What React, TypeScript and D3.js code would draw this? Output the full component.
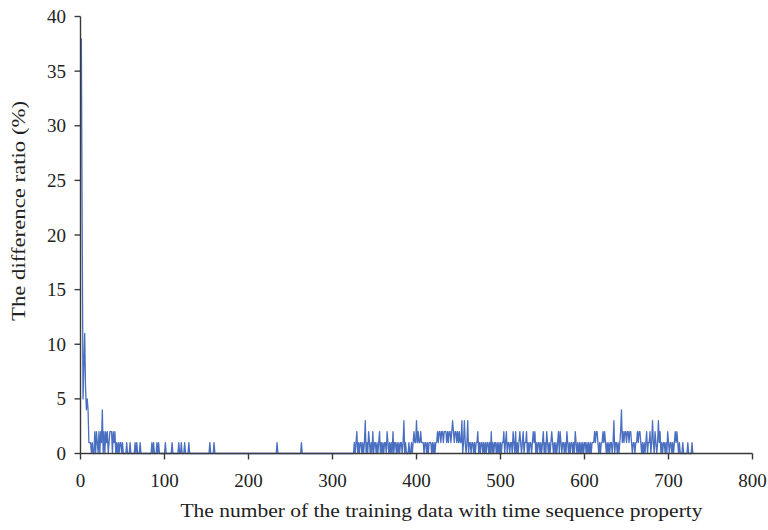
import React from "react";
import * as d3 from "d3";

// x positions start at 1; first values are large
const headValues: number[] = [38, 21, 5, 8, 11, 6, 4, 5, 4];
const headStartX = 1;

// One digit per integer x, starting at x = 10 (values are the difference ratio in %)
const seriesDigits: string[] = [
  "1110100202", // 10-19
  "1020214020", // 20-29
  "2120122202", // 30-39
  "1201010110", // 40-49
  "1000010001", // 50-59
  "0000010100", // 60-69
  "0100000000", // 70-79
  "0000010100", // 80-89
  "0101000000", // 90-99
  "0100000001", // 100-109
  "0000000100", // 110-119
  "1000100001", // 120-129
  "0000000000", // 130-139
  "0000000000", // 140-149
  "0000100001", // 150-159
  "0000000000", // 160-169
  "0000000000", // 170-179
  "0000000000", // 180-189
  "0000000000", // 190-199
  "0000000000", // 200-209
  "0000000000", // 210-219
  "0000000000", // 220-229
  "0000100000", // 230-239
  "0000000000", // 240-249
  "0000000000", // 250-259
  "0001000000", // 260-269
  "0000000000", // 270-279
  "0000000000", // 280-289
  "0000000000", // 290-299
  "0000000000", // 300-309
  "0000000000", // 310-319
  "0000001012", // 320-329
  "0101101013", // 330-339
  "0102101020", // 340-349
  "1101012010", // 350-359
  "1011021010", // 360-369
  "1020110101", // 370-379
  "0110130100", // 380-389
  "0100101211", // 390-399
  "3121121110", // 400-409
  "1101011101", // 410-419
  "0101121221", // 420-429
  "2212221212", // 430-439
  "2123212212", // 440-449
  "1211301310", // 450-459
  "1301101101", // 460-469
  "0112010110", // 470-479
  "1010110102", // 480-489
  "0101101010", // 490-499
  "1011201201", // 500-509
  "1011021020", // 510-519
  "1012101201", // 520-529
  "1201011012", // 530-539
  "1201011010", // 540-549
  "1201021010", // 550-559
  "1210101012", // 560-569
  "0210110102", // 570-579
  "1010110102", // 580-589
  "1010101010", // 590-599
  "1101010101", // 600-609
  "1121221010", // 610-619
  "1121210101", // 620-629
  "0110130110", // 630-639
  "1012412122", // 640-649
  "1221221011", // 650-659
  "0112122101", // 660-669
  "0101201120", // 670-679
  "1310210131", // 680-689
  "2010110102", // 690-699
  "1011010121", // 700-709
  "2101000100", // 710-719
  "00010000100", // 720-730
];

const xTicks = [0, 100, 200, 300, 400, 500, 600, 700, 800];
const yTicks = [0, 5, 10, 15, 20, 25, 30, 35, 40];
const xTitle = "The number of the training data with time sequence property";
const yTitle = "The difference ratio (%)";

type Pt = { x: number; y: number };

function buildData(): Pt[] {
  const pts: Pt[] = headValues.map((v, i) => ({ x: headStartX + i, y: v }));
  const digits = seriesDigits.join("");
  const start = headStartX + headValues.length;
  for (let i = 0; i < digits.length; i++) {
    pts.push({ x: start + i, y: +digits[i] });
  }
  return pts;
}

export default function App() {
  const W = 768;
  const H = 530;
  const left = 80.5;
  const right = 752.5;
  const top = 16.5;
  const bottom = 453.5;
  const font = "'Liberation Serif', 'Times New Roman', serif";
  const axisColor = "#3a3a3a";

  const x = d3.scaleLinear().domain([0, 800]).range([left, right]);
  const y = d3.scaleLinear().domain([0, 40]).range([bottom, top]);
  const data = buildData();
  const line = d3
    .line<Pt>()
    .x((d) => x(d.x))
    .y((d) => y(d.y));

  return (
    <svg
      width={W}
      height={H}
      style={{ position: "absolute", left: 0, top: 0, background: "#fff" }}
    >
      <rect width={W} height={H} fill="#fff" />
      <path
        d={line(data) || ""}
        fill="none"
        stroke="#4a6fc0"
        strokeWidth={1.3}
        strokeLinejoin="round"
      />
      {/* axes */}
      <line x1={left} x2={right} y1={bottom} y2={bottom} stroke={axisColor} strokeWidth={1.4} />
      <line x1={left} x2={left} y1={top} y2={bottom} stroke={axisColor} strokeWidth={1.4} />
      {xTicks.map((t) => (
        <g key={"x" + t}>
          <line x1={x(t)} x2={x(t)} y1={bottom} y2={bottom + 6} stroke={axisColor} strokeWidth={1.4} />
          <text
            x={x(t)}
            y={487}
            textAnchor="middle"
            fontFamily={font}
            fontSize={19}
            fill="#222"
          >
            {t}
          </text>
        </g>
      ))}
      {yTicks.map((t) => (
        <g key={"y" + t}>
          <line x1={left - 6} x2={left} y1={y(t)} y2={y(t)} stroke={axisColor} strokeWidth={1.4} />
          <text
            x={66}
            y={y(t) + 6.5}
            textAnchor="end"
            fontFamily={font}
            fontSize={19}
            fill="#222"
          >
            {t}
          </text>
        </g>
      ))}
      <text
        x={(180 + 703) / 2}
        y={517}
        textAnchor="middle"
        fontFamily={font}
        fontSize={19}
        textLength={522}
        lengthAdjust="spacingAndGlyphs"
        fill="#222"
      >
        {xTitle}
      </text>
      <text
        transform={`translate(25, 211) rotate(-90)`}
        textAnchor="middle"
        fontFamily={font}
        fontSize={19}
        textLength={220}
        lengthAdjust="spacingAndGlyphs"
        fill="#222"
      >
        {yTitle}
      </text>
    </svg>
  );
}
